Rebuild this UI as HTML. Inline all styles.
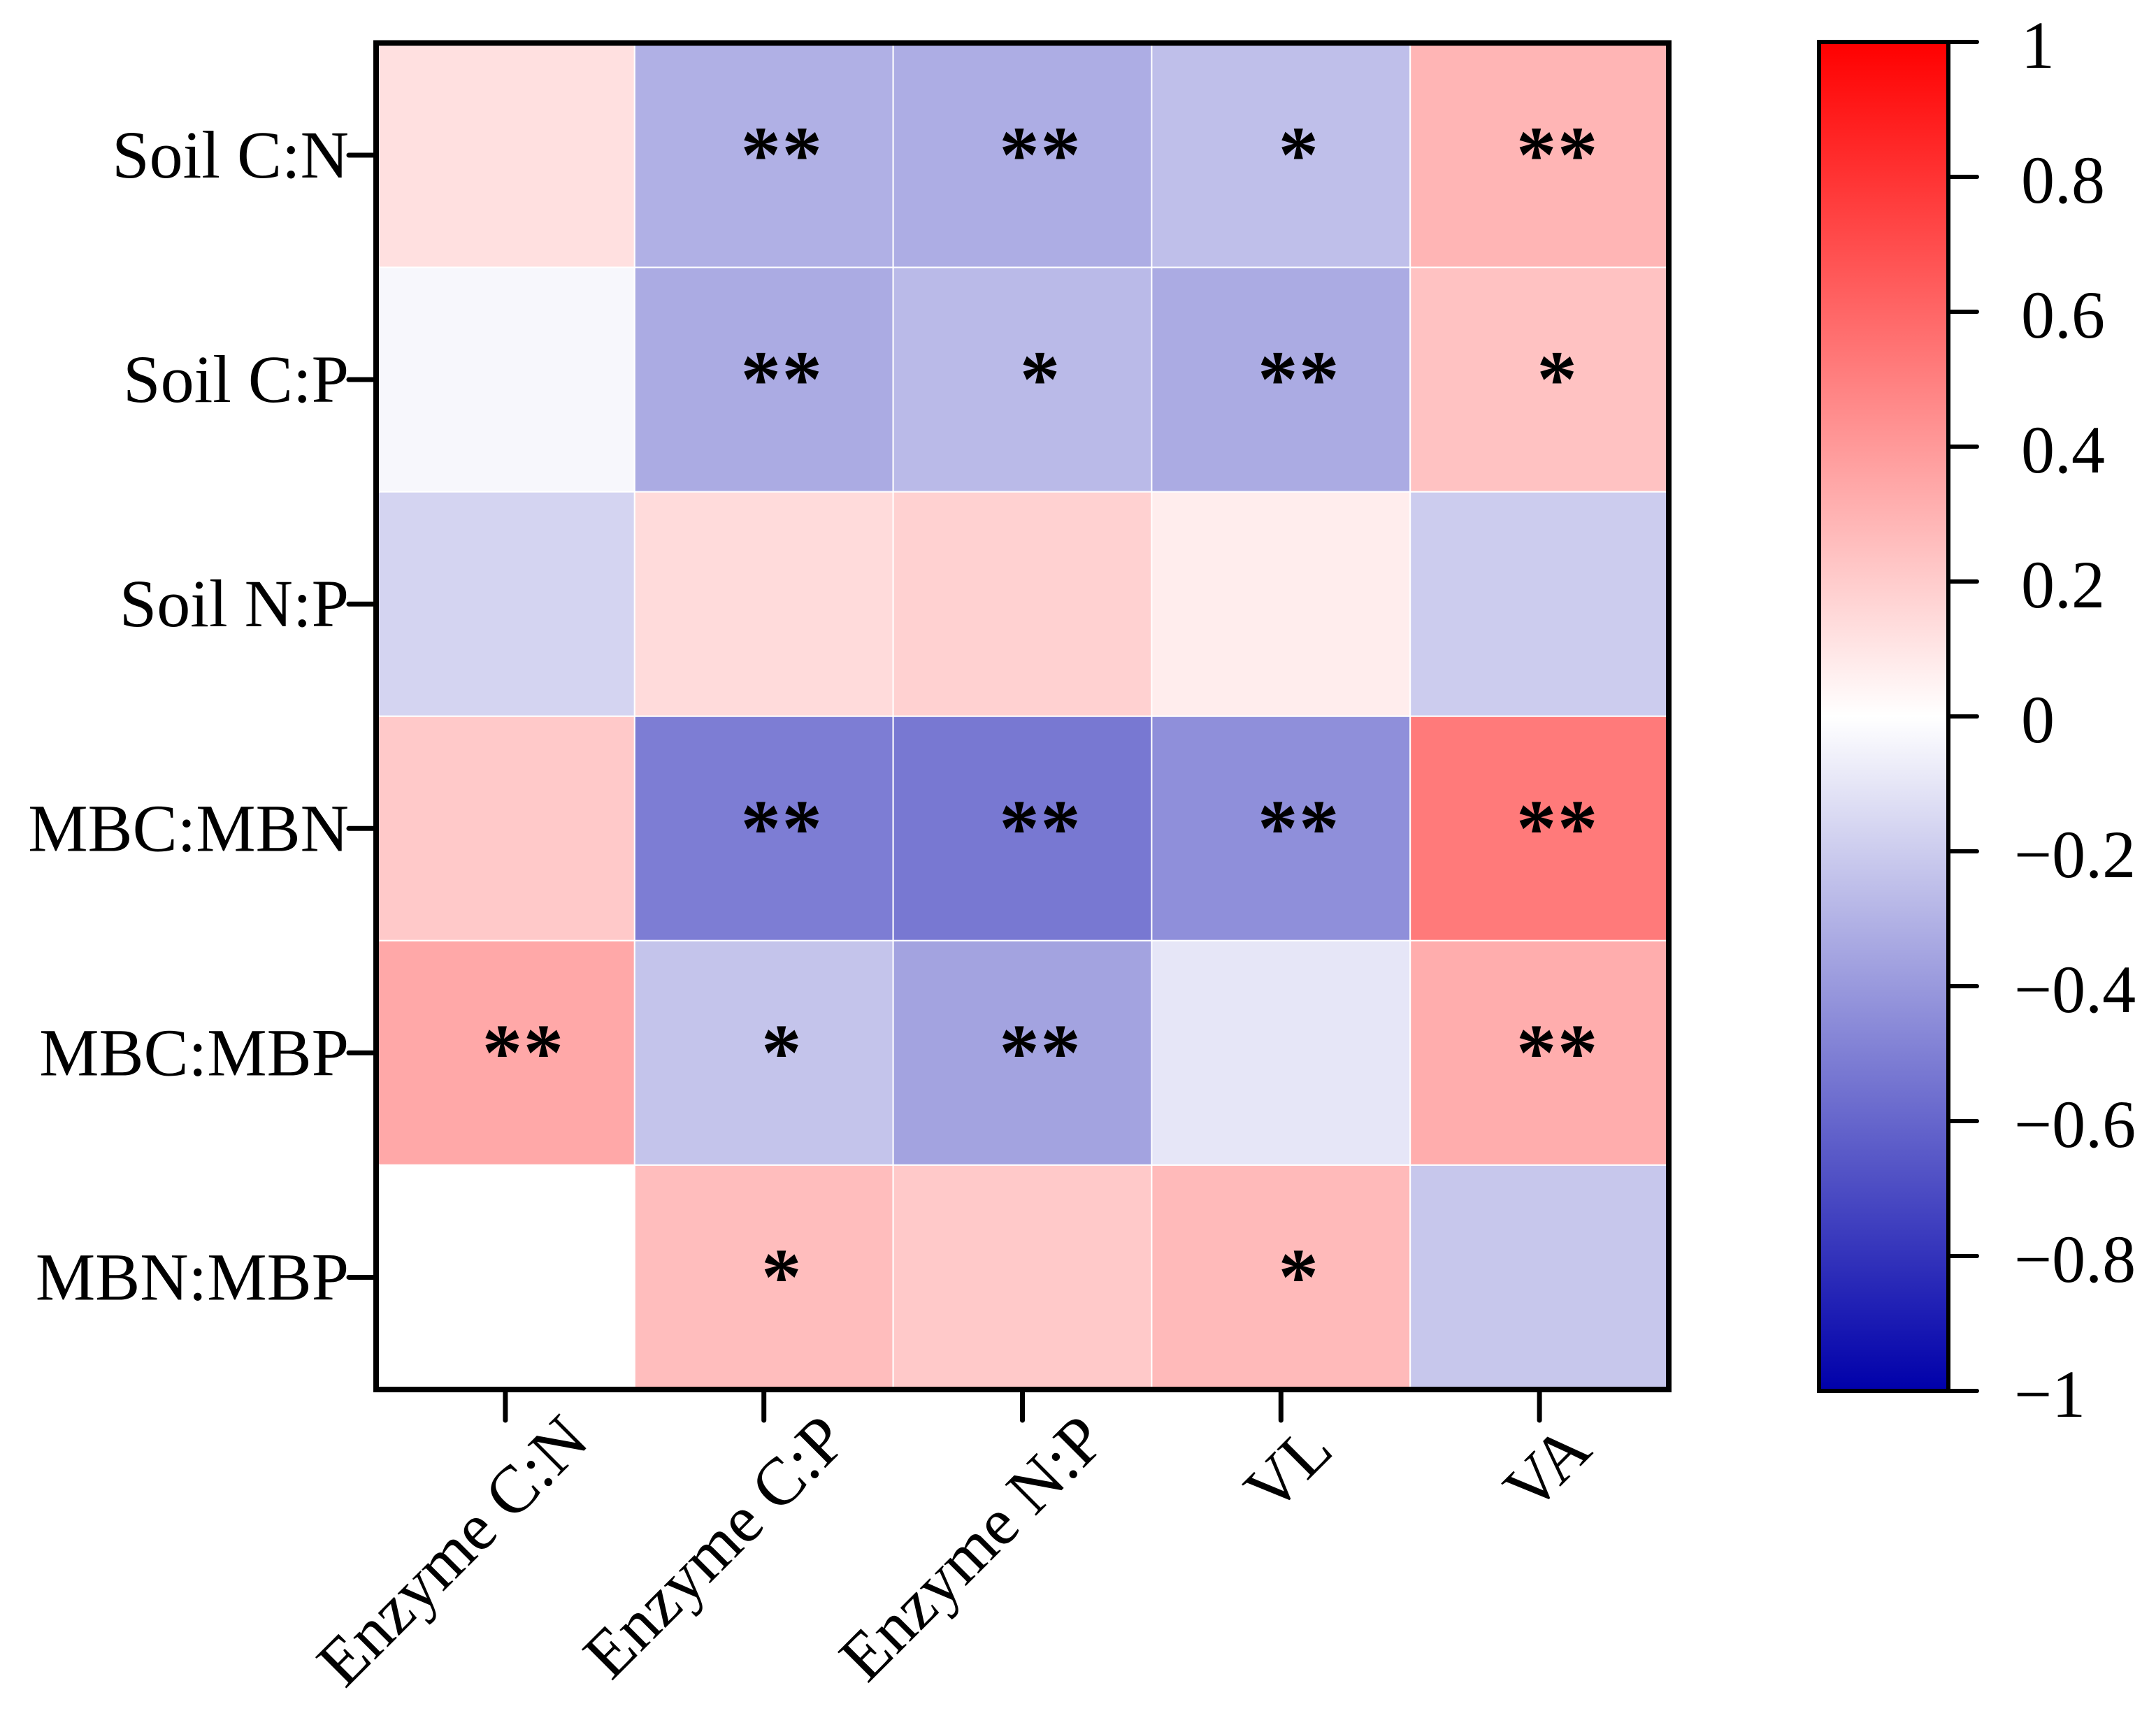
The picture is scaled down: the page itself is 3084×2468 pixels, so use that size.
<!DOCTYPE html>
<html><head><meta charset="utf-8"><style>
html,body{margin:0;padding:0;background:#fff;}
svg{display:block;}
text{font-family:"Liberation Serif",serif;fill:#000;}
</style></head><body>
<svg id="chart" width="3084" height="2468" viewBox="0 0 3084 2468" xmlns="http://www.w3.org/2000/svg">
<defs>
<linearGradient id="cbgrad" x1="0" y1="0" x2="0" y2="1">
<stop offset="0" stop-color="#ff0000"/>
<stop offset="0.5" stop-color="#ffffff"/>
<stop offset="1" stop-color="#0000aa"/>
</linearGradient>
</defs>
<g id="cells"></g>
<g id="stars"></g>
<rect x="538" y="61.5" width="1849" height="1926.5" fill="none" stroke="#000" stroke-width="8"/>
<g id="yaxis"></g>
<g id="xaxis"></g>
<g id="colorbar">
<rect x="2602" y="60" width="185" height="1930" fill="url(#cbgrad)" stroke="#000" stroke-width="6"/>
</g>
</svg>
<script>
const rows = ["Soil C:N","Soil C:P","Soil N:P","MBC:MBN","MBC:MBP","MBN:MBP"];
const cols = ["Enzyme C:N","Enzyme C:P","Enzyme N:P","VL","VA"];
const values = [
  [0.12,-0.31,-0.32,-0.25,0.29],
  [-0.03,-0.33,-0.27,-0.33,0.24],
  [-0.17,0.14,0.18,0.07,-0.20],
  [0.21,-0.51,-0.53,-0.44,0.52],
  [0.34,-0.23,-0.36,-0.10,0.32],
  [0.0,0.26,0.21,0.27,-0.22]
];
const sig = [
  [0,2,2,1,2],
  [0,2,1,2,1],
  [0,0,0,0,0],
  [0,2,2,2,2],
  [2,1,2,0,2],
  [0,1,0,1,0]
];
const cbTicks = [1,0.8,0.6,0.4,0.2,0,-0.2,-0.4,-0.6,-0.8,-1];
const cbLabels = ["1","0.8","0.6","0.4","0.2","0","\u22120.2","\u22120.4","\u22120.6","\u22120.8","\u22121"];

const NS="http://www.w3.org/2000/svg";
const X0=538,X1=2387,Y0=61.5,Y1=1988;
const cw=(X1-X0)/cols.length, ch=(Y1-Y0)/rows.length;
const xPos=i=>X0+cw*i, yPos=j=>Y0+ch*j;
const CB0=60,CB1=1990;
const cbY=v=>CB0+(1-v)/2*(CB1-CB0);
function color(v){
  let r,g,b;
  if(v>=0){r=255;g=Math.round(255*(1-v));b=g;}
  else{const t=-v;r=Math.round(255*(1-t));g=r;b=Math.round(255-85*t);}
  return `rgb(${r},${g},${b})`;
}
function mk(tag,attrs,parent){const e=document.createElementNS(NS,tag);for(const k in attrs)e.setAttribute(k,attrs[k]);parent.appendChild(e);return e;}
const cells=document.getElementById('cells'),stars=document.getElementById('stars');
rows.forEach((rn,j)=>{cols.forEach((cn,i)=>{
  const r=mk('rect',{x:xPos(i),y:yPos(j),width:cw,height:ch,fill:color(values[j][i]),stroke:'#fff','stroke-width':2},cells);
  
  
  const n=sig[j][i];
  for(let k=0;k<n;k++){
    const t=mk('text',{x:xPos(i)+cw/2+25+(k-(n-1)/2)*59,y:yPos(j)+ch/2+38,'text-anchor':'middle','font-size':115,'font-weight':'bold'},stars);
    t.textContent='*';
    
    
  }
});});
const ya=document.getElementById('yaxis');
rows.forEach((rn,j)=>{
  const cy=yPos(j)+ch/2;
  const l=mk('line',{x1:499,x2:538,y1:cy,y2:cy,stroke:'#000','stroke-width':7,'stroke-linecap':'round'},ya);
  
  
  const t=mk('text',{x:499,y:cy+32,'text-anchor':'end','font-size':96},ya);
  t.textContent=rn;
  
  
});
const xa=document.getElementById('xaxis');
cols.forEach((cn,i)=>{
  const cx=xPos(i)+cw/2;
  const l=mk('line',{x1:cx,x2:cx,y1:1988,y2:2032,stroke:'#000','stroke-width':7,'stroke-linecap':'round'},xa);
  
  
  const shift = cn.length<4 ? -45 : 0;
  const ex=cx+123+shift,ey=2065-shift*0.3;
  const t=mk('text',{x:ex,y:ey,'text-anchor':'end','font-size':96,transform:`rotate(-45 ${ex} ${ey})`},xa);
  t.textContent=cn;
  
  
});
const cb=document.getElementById('colorbar');
cbTicks.forEach((v,k)=>{
  const y=cbY(v);
  const l=mk('line',{x1:2787,x2:2828,y1:y,y2:y,stroke:'#000','stroke-width':6,'stroke-linecap':'round'},cb);
  
  
  const t=mk('text',{x:v<0?2881:2891,y:y+37,'font-size':96},cb);
  t.textContent=cbLabels[k];
  
  
});
</script>
</body></html>
